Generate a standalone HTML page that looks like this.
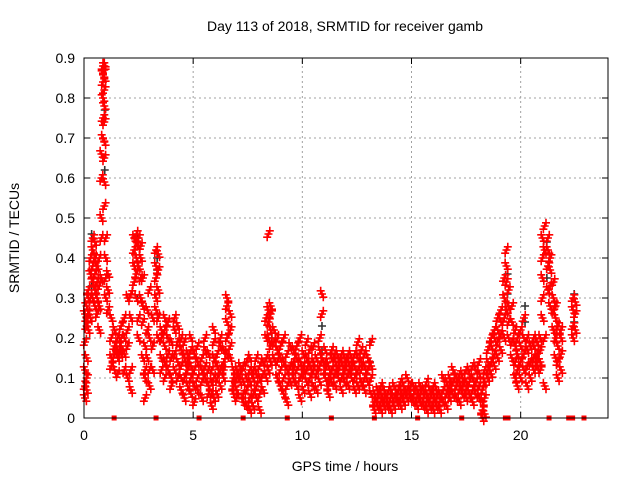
<!DOCTYPE html>
<html><head><meta charset="utf-8"><style>
body{margin:0;background:#fff}
svg text{font-family:"Liberation Sans",sans-serif;font-size:14px;fill:#000}
</style></head><body>
<svg id="chart" width="640" height="480" xmlns="http://www.w3.org/2000/svg">
<text x="345" y="31" text-anchor="middle">Day 113 of 2018, SRMTID for receiver gamb</text>
<text x="345" y="471" text-anchor="middle">GPS time / hours</text>
<text transform="translate(19,238) rotate(-90)" text-anchor="middle">SRMTID / TECUs</text>
<g id="grid"></g>
<g id="axes"></g>
<g id="black"></g>
<g id="red"></g>
<g id="sq"></g>
<rect x="84" y="58" width="524" height="360" fill="none" stroke="#000" stroke-width="1"/>
</svg>
<script>
const xTicks=[0,5,10,15,20];
const yTicks=[0,0.1,0.2,0.3,0.4,0.5,0.6,0.7,0.8,0.9];
const yTickLabels=["0","0.1","0.2","0.3","0.4","0.5","0.6","0.7","0.8","0.9"];
const stackTimes=[0.05,0.12,0.2,0.3,0.4,0.5,0.6,0.7,0.8,0.87,0.93,1.0,1.1,1.25,1.4,1.55,1.7,1.85,2.0,2.15,2.3,2.4,2.5,2.6,2.7,2.8,2.9,3.0,3.15,3.3,3.4,3.55,3.7,3.85,4.0,4.15,4.3,4.45,4.6,4.75,4.9,5.05,5.2,5.4,5.55,5.7,5.85,5.95,6.1,6.25,6.4,6.55,6.7,6.85,7.0,7.15,7.3,7.45,7.6,7.75,7.9,8.05,8.2,8.35,8.45,8.55,8.7,8.85,9.0,9.15,9.3,9.45,9.6,9.75,9.9,10.05,10.2,10.35,10.5,10.65,10.8,10.9,11.05,11.2,11.35,11.5,11.65,11.8,11.95,12.1,12.25,12.4,12.55,12.7,12.85,13.0,13.15,13.3,13.45,13.6,13.75,13.9,14.05,14.2,14.35,14.5,14.65,14.8,14.95,15.1,15.25,15.4,15.55,15.7,15.85,16.0,16.15,16.3,16.45,16.6,16.75,16.9,17.05,17.2,17.35,17.5,17.65,17.8,17.95,18.1,18.25,18.35,18.5,18.65,18.8,18.95,19.1,19.25,19.35,19.45,19.6,19.75,19.85,20.0,20.15,20.3,20.45,20.6,20.75,20.9,21.0,21.1,21.25,21.35,21.5,21.6,21.7,21.85,22.4,22.5];
const stackValues=[[.05,.08,.12,.19,.26],[.07,.1,.15,.23,.28,.25],[.22,.26,.3,.32],[.25,.3,.36,.4],[.3,.38,.42,.45,.34],[.32,.4,.44,.36,.28],[.3,.34,.38,.26],[.28,.33,.22,.4],[.35,.45,.5,.6,.66],[.7,.75,.8,.84,.86,.88],[.88,.87,.85,.82,.78,.74,.69,.65,.59,.53],[.4,.35,.3,.45],[.32,.27,.36],[.15,.2,.25,.13],[.12,.18,.22,.16],[.15,.2,.17,.11],[.18,.23,.16,.2],[.16,.12,.2,.25],[.3,.18,.1,.22],[.07,.12,.25,.31],[.38,.42,.45,.34],[.44,.46,.4,.36,.3],[.43,.45,.38,.25,.2],[.3,.35,.4,.43],[.15,.24,.28,.35],[.1,.12,.18,.05],[.15,.22,.27],[.08,.12,.2,.32],[.12,.18,.25],[.3,.35,.38,.42,.27],[.32,.37,.41,.25,.2],[.15,.2,.22,.12],[.18,.22,.25,.1,.14],[.12,.16,.2,.24],[.1,.15,.19,.08],[.12,.16,.22,.25],[.14,.19,.23,.1],[.1,.13,.17,.2,.07],[.05,.1,.15,.19],[.08,.12,.16,.14],[.06,.1,.13,.17,.2],[.08,.12,.16,.04],[.07,.1,.14,.18],[.05,.09,.12,.15],[.1,.13,.17,.2],[.08,.12,.16,.06],[.03,.06,.09,.12],[.05,.1,.15,.19,.22],[.06,.1,.13,.16],[.08,.12,.18,.2],[.1,.14,.17,.12],[.16,.2,.24,.28,.3],[.15,.22,.26,.18],[.06,.1,.12,.08],[.07,.1,.12,.05],[.09,.11,.13],[.04,.06,.09,.13],[.03,.07,.1,.14],[.02,.05,.09,.12,.15],[.03,.06,.1,.12],[.05,.08,.11,.15],[.02,.06,.1,.13],[.07,.11,.14],[.1,.15,.2,.25],[.2,.24,.27,.46,.12],[.14,.18,.22,.26,.28],[.15,.19,.22],[.1,.14,.17,.2],[.08,.12,.15,.18],[.06,.1,.14,.2],[.04,.08,.12,.16],[.09,.13,.18],[.1,.14,.17,.12],[.08,.12,.15,.18],[.05,.1,.14,.2],[.07,.11,.16,.13],[.09,.12,.15,.19],[.06,.1,.13,.17],[.08,.12,.14,.18],[.07,.11,.15],[.09,.13,.17,.2],[.31,.26,.15],[.1,.14,.17,.12],[.06,.1,.13,.08],[.09,.12,.15,.17],[.08,.11,.14,.16],[.1,.13,.15,.12],[.07,.1,.14,.16],[.09,.12,.15,.13],[.08,.11,.14,.16],[.1,.13,.15,.12],[.07,.1,.13,.16],[.08,.12,.15,.19],[.09,.12,.14,.17],[.07,.1,.13,.16],[.09,.12,.15],[.06,.1,.13,.19],[.02,.04,.06],[.03,.05,.07],[.02,.04,.06,.08],[.03,.05,.07],[.03,.06,.04],[.02,.05,.07],[.03,.05,.08],[.04,.06,.05],[.03,.05,.07,.09],[.04,.06,.08],[.05,.07,.1],[.06,.08,.05],[.04,.06,.08],[.03,.05,.07],[.04,.06,.08],[.03,.05,.07],[.02,.04,.06,.09],[.03,.05,.07],[.02,.04,.06,.08],[.03,.05,.07],[.02,.04,.06],[.04,.07,.1],[.03,.06,.09],[.05,.08,.1,.06],[.06,.09,.12],[.05,.08,.1],[.04,.07,.09,.11],[.06,.08,.1],[.05,.07,.09,.12],[.06,.09,.11],[.04,.07,.1,.13],[.06,.09,.12],[.05,.08,.11,.14],[0,.02,.04,.07],[.01,.05,.09,.12],[.1,.12,.14,.17],[.11,.14,.18,.2],[.13,.16,.2,.22],[.15,.19,.22,.25],[.17,.21,.24,.27],[.2,.25,.3,.35],[.27,.34,.38,.42],[.2,.24,.28,.32],[.15,.19,.24,.28],[.1,.14,.18,.22],[.08,.12,.16,.2],[.1,.14,.18,.22],[.12,.16,.2,.25],[.08,.13,.17,.2],[.1,.14,.18],[.12,.15,.18,.2],[.13,.16,.19,.14],[.14,.17,.2,.12],[.25,.3,.35,.4,.45],[.08,.2,.42,.48],[.32,.38,.42,.45],[.28,.33,.37,.4],[.22,.27,.3,.34],[.15,.2,.25,.28],[.1,.14,.18,.23],[.12,.16,.2,.22],[.2,.23,.27,.3],[.22,.26,.29]];
const blackTimes=[0.35,0.95,2.45,3.35,8.6,10.9,13.1,19.4,20.2,21.2,22.45];
const blackValues=[[.46,.33],[.62,.77],[.45,.3],[.37,.4],[.27,.2],[.23,.17],[.19,.14],[.31,.36],[.24,.28],[.44,.35],[.31,.24]];
const markerHours=[1.38,3.3,5.27,7.29,9.31,11.33,13.3,15.28,17.3,19.3,19.42,21.3,22.2,22.38,22.9];

const X0=84,X1=608,Y0=418,Y1=58;
const xs=t=>X0+t*(X1-X0)/24;
const ys=v=>Y0-v*(Y0-Y1)/0.9;
const NS="http://www.w3.org/2000/svg";
function mk(tag,parent,attrs){const e=document.createElementNS(NS,tag);for(const k in attrs)e.setAttribute(k,attrs[k]);parent.appendChild(e);return e;}
const grid=document.getElementById('grid'),axes=document.getElementById('axes');
yTicks.forEach((v,i)=>{
  const y=ys(v);
  if(i>0&&i<yTicks.length-1){const g=mk('line',grid,{x1:X0,x2:X1,y1:y,y2:y,stroke:'#a0a0a0','stroke-dasharray':'2,3'});
  
  }
  mk('line',axes,{x1:X0,x2:X0+6,y1:y,y2:y,stroke:'#000'});
  mk('line',axes,{x1:X1,x2:X1-6,y1:y,y2:y,stroke:'#000'});
  const t=mk('text',axes,{x:X0-9,y:y+5,'text-anchor':'end'});t.textContent=yTickLabels[i];
  
  
});
xTicks.forEach(h=>{
  const x=xs(h);
  if(h>0){const g=mk('line',grid,{x1:x,x2:x,y1:Y0,y2:Y1,stroke:'#a0a0a0','stroke-dasharray':'2,3'});
  
  }
  mk('line',axes,{x1:x,x2:x,y1:Y0,y2:Y0-6,stroke:'#000'});
  mk('line',axes,{x1:x,x2:x,y1:Y1,y2:Y1+6,stroke:'#000'});
  const t=mk('text',axes,{x:x,y:Y0+22,'text-anchor':'middle'});t.textContent=String(h);
  
  
});
function plus(g,t,v,color){
  const x=xs(t),y=ys(v);
  const p=mk('path',g,{d:`M${x-4},${y}H${x+4}M${x},${y-4}V${y+4}`,stroke:color,'stroke-width':1.6,fill:'none'});
  
  
}
const bg=document.getElementById('black'),rg=document.getElementById('red');
blackTimes.forEach((t,i)=>blackValues[i].forEach(v=>plus(bg,t,v,'#333')));
const offs=[-0.06,0,0.06];
stackTimes.forEach((t,i)=>stackValues[i].forEach((v,j)=>offs.forEach((o,k)=>plus(rg,t+o,v+(k-1)*(j%2?0.008:-0.008),'#ff0000'))));
const sq=document.getElementById('sq');
markerHours.forEach(h=>{
  const r=mk('rect',sq,{x:xs(h)-2.5,y:Y0-2.5,width:5,height:5,fill:'#ff0000'});
  
  
});
</script>
</body></html>
